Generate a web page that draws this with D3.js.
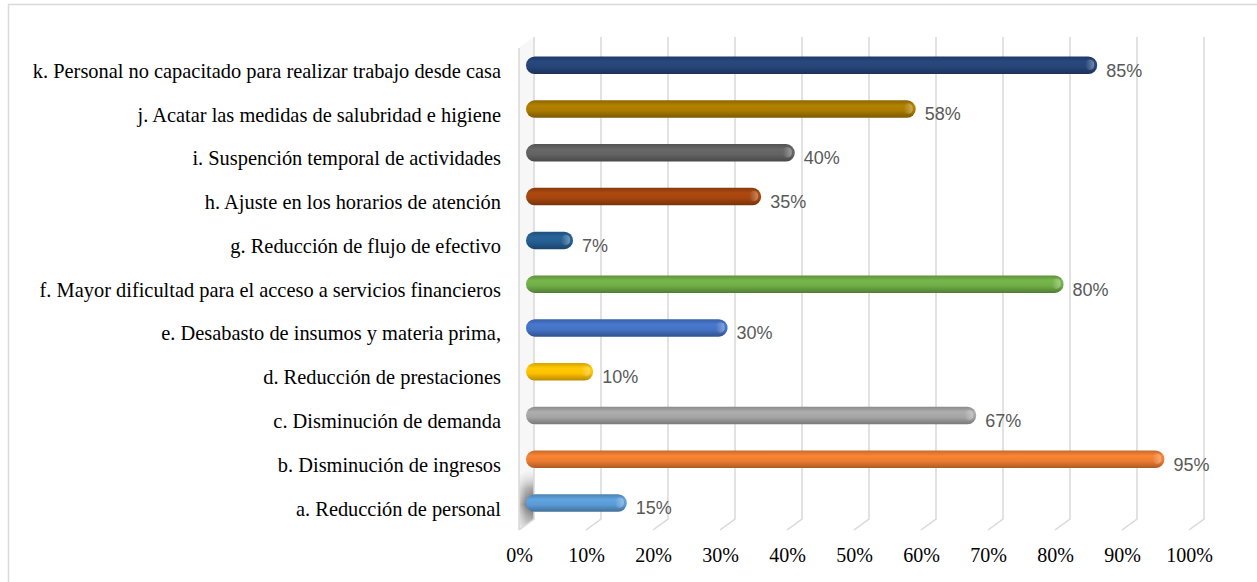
<!DOCTYPE html>
<html><head><meta charset="utf-8">
<script src="https://cdn.jsdelivr.net/npm/d3@7"></script>
<style>body{margin:0;background:#fff}svg{display:block}</style>
</head><body>
<svg id="c" width="1257" height="582"></svg>
<script>
const categories = [
 "k. Personal no capacitado para realizar trabajo desde casa",
 "j. Acatar las medidas de salubridad e higiene",
 "i. Suspención temporal de actividades",
 "h. Ajuste en los horarios de atención",
 "g. Reducción de flujo de efectivo",
 "f. Mayor dificultad para el acceso a servicios financieros",
 "e. Desabasto de insumos y materia prima,",
 "d. Reducción de prestaciones",
 "c. Disminución de demanda",
 "b. Disminución de ingresos",
 "a. Reducción de personal"
];
const values = [0.85,0.58,0.40,0.35,0.07,0.80,0.30,0.10,0.67,0.95,0.15];
const colors = ["#264478","#a97a00","#636363","#a4450e","#255e91","#70ad47","#4472c4","#ffc000","#a5a5a5","#ed7d31","#5b9bd5"];
const ticks = [0,0.1,0.2,0.3,0.4,0.5,0.6,0.7,0.8,0.9,1.0];

const svg = d3.select("#c");
svg.append("path").attr("d","M1262,4.5H8.5V590").attr("fill","none").attr("stroke","#d9d9d9").attr("stroke-width",1.5);

const xFront = d3.scaleLinear().domain([0,1]).range([519,1189]);
const dx = 15, dy = -11;
const xBar = d3.scaleLinear().domain([0,1]).range([526,1198]);
const y = d3.scalePoint().domain(categories).range([65.3,503]);
const topY = 37, backBottom = 519, frontBottom = 530;
const barH = 17.5;

const defs = svg.append("defs");
const wg = defs.append("linearGradient").attr("id","wallg").attr("x1",0).attr("y1",0).attr("x2",0).attr("y2",1);
wg.append("stop").attr("offset","0%").attr("stop-color","#fff").attr("stop-opacity",0);
wg.append("stop").attr("offset","35%").attr("stop-color","#777").attr("stop-opacity",0.7);
wg.append("stop").attr("offset","60%").attr("stop-color","#3a3a3a").attr("stop-opacity",0.9);
wg.append("stop").attr("offset","100%").attr("stop-color","#bbb").attr("stop-opacity",0.6);
const wh = defs.append("linearGradient").attr("id","wallh").attr("x1",0).attr("y1",0).attr("x2",1).attr("y2",0);
wh.append("stop").attr("offset","0%").attr("stop-color","#444");
wh.append("stop").attr("offset","45%").attr("stop-color","#bbb");
wh.append("stop").attr("offset","100%").attr("stop-color","#fff");
const wm = defs.append("mask").attr("id","wallm");
wm.append("rect").attr("x",519).attr("y",30).attr("width",16).attr("height",510).attr("fill","url(#wallh)");

const x0 = xFront(0);
svg.append("path").attr("d",`M${x0},${frontBottom}L${x0+dx},${backBottom}L${x0+dx},${topY}L${x0},${topY-dy}Z`)
  .attr("fill","#f7f7f7");
svg.append("path").attr("d",`M${x0},${frontBottom}L${x0+dx},${backBottom}L${x0+dx},466L${x0},476Z`)
  .attr("fill","url(#wallg)").attr("mask","url(#wallm)");
svg.append("line").attr("x1",x0).attr("x2",x0).attr("y1",topY-dy).attr("y2",frontBottom).attr("stroke","#d9d9d9").attr("stroke-width",1.5);

const grid = svg.append("g").attr("fill","none").attr("stroke","#d9d9d9").attr("stroke-width",1.5);
ticks.forEach(t=>{
  const xb = xFront(t)+dx;
  grid.append("path").attr("d",`M${xb},${topY}V${backBottom}L${xFront(t)},${frontBottom}`);
});

colors.forEach((c,i)=>{
  const g = defs.append("linearGradient").attr("id","bg"+i).attr("x1",0).attr("y1",0).attr("x2",0).attr("y2",1);
  const col = d3.color(c);
  g.append("stop").attr("offset","0%").attr("stop-color",col.darker(0.5));
  g.append("stop").attr("offset","30%").attr("stop-color",col.brighter(0.15));
  g.append("stop").attr("offset","60%").attr("stop-color",col);
  g.append("stop").attr("offset","100%").attr("stop-color",col.darker(0.9));
  const h = defs.append("linearGradient").attr("id","bh"+i).attr("x1",0).attr("y1",0).attr("x2",1).attr("y2",0);
  h.append("stop").attr("offset","0%").attr("stop-color","#fff").attr("stop-opacity",0);
  h.append("stop").attr("offset","100%").attr("stop-color","#fff").attr("stop-opacity",0.35);
});

const bars = svg.append("g");
categories.forEach((c,i)=>{
  const yc = y(c);
  const w = xBar(values[i]) - xBar(0);
  bars.append("rect").attr("x",xBar(0)).attr("y",yc-barH/2).attr("width",w).attr("height",barH)
    .attr("rx",barH/2).attr("ry",barH/2).attr("fill","url(#bg"+i+")");
  bars.append("rect").attr("x",xBar(values[i])-12).attr("y",yc-barH/2+3).attr("width",9).attr("height",barH-7)
    .attr("rx",4.5).attr("fill","url(#bh"+i+")");
});

svg.append("g").selectAll("text").data(categories).join("text")
  .attr("x",(d,i)=>xBar(values[i])+9).attr("y",d=>y(d)+11.4)
  .attr("font-family","Liberation Sans, Arial, sans-serif").attr("font-size",18).attr("fill","#595959")
  .text((d,i)=>Math.round(values[i]*100)+"%");

svg.append("g").selectAll("text").data(categories).join("text")
  .attr("x",501).attr("y",d=>y(d)+12.5).attr("text-anchor","end")
  .attr("font-family","Liberation Serif, Times New Roman, serif").attr("font-size",20.4).attr("fill","#000")
  .text(d=>d);

const axis = d3.axisBottom(xFront).tickValues(ticks).tickFormat(d3.format(".0%")).tickSize(0).tickPadding(0);
const ag = svg.append("g").attr("transform","translate(0,547.5)").call(axis);
ag.select(".domain").remove();
ag.selectAll("text").attr("font-family","Liberation Serif, Times New Roman, serif").attr("font-size",20).attr("fill","#000").attr("dy","0.71em");
</script>
</body></html>
